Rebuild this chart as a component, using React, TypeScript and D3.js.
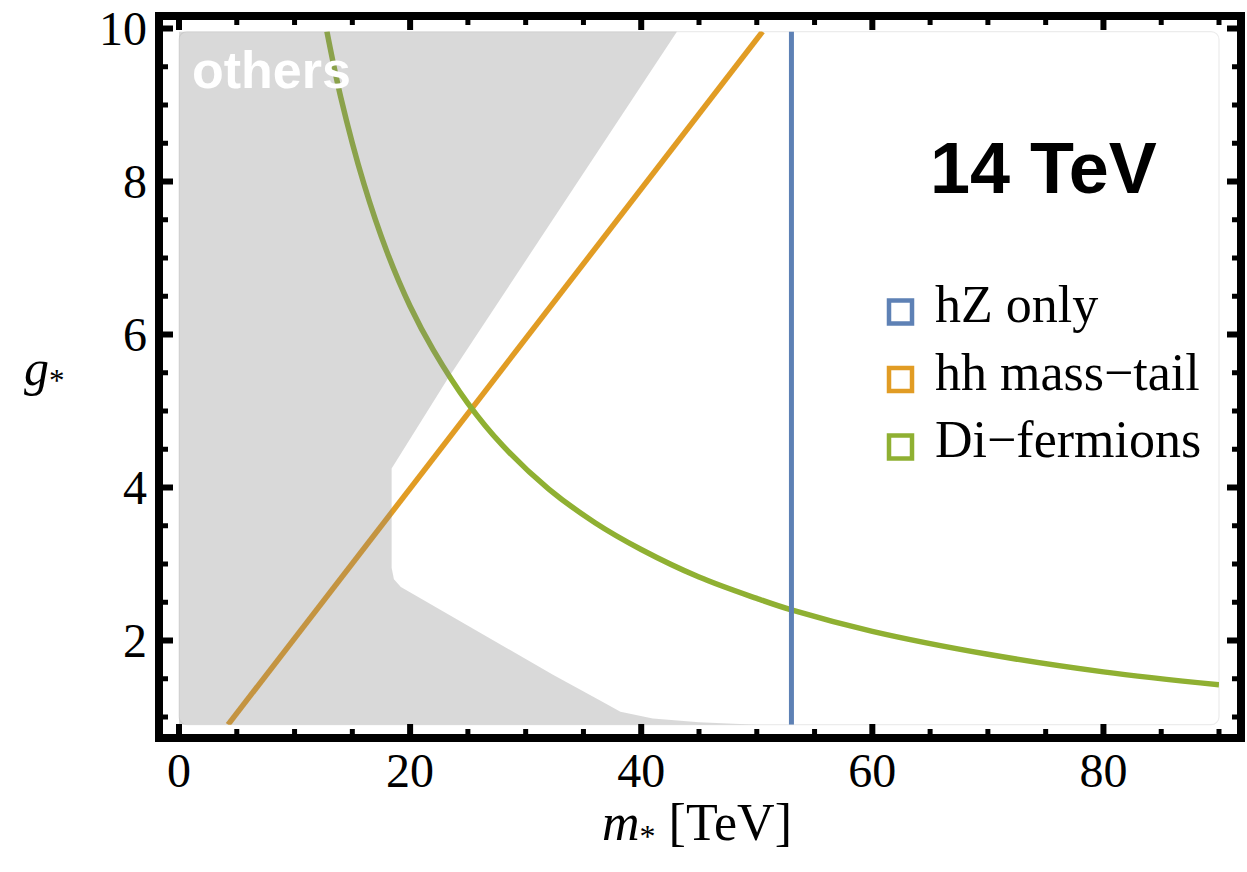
import React from "react";
import * as d3 from "d3";

// ---- data (m* in TeV, g* dimensionless) ----
const X_MAJOR = [0, 20, 40, 60, 80];
const Y_MAJOR = [2, 4, 6, 8, 10];
const PLOT_X = [0, 90];
const PLOT_Y = [0.9, 9.96];

// hZ only: vertical bound at fixed mass
const HZ_MASS = 53;
// hh mass-tail: straight bound
const HH_TAIL = [
  [4.24, 0.9],
  [50.5, 9.96],
];
// Di-fermions: falling bound
const DI_FERMIONS = [
  [12.8, 9.96],
  [14, 9.1],
  [16, 7.97],
  [18, 7.08],
  [20, 6.37],
  [22, 5.8],
  [25, 5.1],
  [28, 4.55],
  [32, 3.98],
  [36, 3.54],
  [40, 3.19],
  [45, 2.83],
  [50, 2.55],
  [53, 2.4],
  [60, 2.12],
  [70, 1.82],
  [80, 1.59],
  [90, 1.42],
];
// "others" excluded region outline
const OTHERS = [
  [0, 0.9],
  [0, 9.96],
  [43.1, 9.96],
  [23.2, 5.41],
  [18.4, 4.25],
  [18.4, 2.95],
  [18.6, 2.8],
  [19.2, 2.7],
  [32.4, 1.55],
  [36.4, 1.22],
  [38.2, 1.07],
  [41, 0.98],
  [45, 0.93],
  [50, 0.9],
];

const LEGEND = [
  { label: "hZ only", color: "#5E81B5" },
  { label: "hh mass\u2212tail", color: "#E19C24" },
  { label: "Di\u2212fermions", color: "#8FB032" },
];

const W = 1247;
const H = 872;

export default function App() {
  const x = d3.scaleLinear().domain([0, 90]).range([179, 1219]);
  const y = d3.scaleLinear().domain([1, 10]).range([717, 28.5]);

  const frame = { x0: 159, y0: 16, x1: 1241, y1: 738, sw: 8 };
  const majorLen = 14;
  const minorLen = 9;

  const xMinor = d3.range(0, 90.001, 5);
  const yMinor = d3.range(1, 10.001, 0.5);

  const line = d3
    .line<number[]>()
    .x((d) => x(d[0]))
    .y((d) => y(d[1]));
  const smooth = d3
    .line<number[]>()
    .x((d) => x(d[0]))
    .y((d) => y(d[1]))
    .curve(d3.curveCatmullRom.alpha(0.5));
  const area = d3
    .line<number[]>()
    .x((d) => x(d[0]))
    .y((d) => y(d[1]))
    .curve(d3.curveLinearClosed);

  const px0 = x(PLOT_X[0]);
  const px1 = x(PLOT_X[1]);
  const py0 = y(PLOT_Y[1]);
  const py1 = y(PLOT_Y[0]);

  const serif = "'Liberation Serif', 'Times New Roman', serif";
  const sans = "'Liberation Sans', Arial, Helvetica, sans-serif";

  const isMajorX = (v: number) => X_MAJOR.includes(v);
  const isMajorY = (v: number) => Y_MAJOR.includes(v);

  return (
    <svg
      width={W}
      height={H}
      style={{ position: "absolute", left: 0, top: 0, background: "#fff" }}
    >
      <defs>
        <clipPath id="plotClip">
          <rect x={px0} y={py0} width={px1 - px0} height={py1 - py0} />
        </clipPath>
      </defs>

      {/* faint plot area outline */}
      <rect
        x={px0}
        y={py0}
        width={px1 - px0}
        height={py1 - py0}
        rx={8}
        fill="#fff"
        stroke="#ececec"
        strokeWidth={1.2}
      />

      <g clipPath="url(#plotClip)">
        <path d={line(HH_TAIL) || ""} fill="none" stroke="#E19C24" strokeWidth={5.5} />
        <path d={smooth(DI_FERMIONS) || ""} fill="none" stroke="#8FB032" strokeWidth={5.5} />
        <line
          x1={x(HZ_MASS)}
          x2={x(HZ_MASS)}
          y1={py0}
          y2={py1}
          stroke="#5E81B5"
          strokeWidth={5}
        />
        <path d={area(OTHERS) || ""} fill="#858585" fillOpacity={0.31} stroke="none" />
      </g>

      <text x={192} y={88} fontFamily={sans} fontWeight="bold" fontSize={52} fill="#fff">
        others
      </text>

      <text x={930} y={193} fontFamily={sans} fontWeight="bold" fontSize={72} fill="#000">
        14 TeV
      </text>

      {LEGEND.map((d, i) => {
        const base = 322 + i * 67.5;
        return (
          <g key={d.label}>
            <rect
              x={889}
              y={base - 21.5}
              width={23}
              height={23}
              fill="#fff"
              stroke={d.color}
              strokeWidth={4.5}
            />
            <text x={935} y={base} fontFamily={serif} fontSize={52} fill="#000">
              {d.label}
            </text>
          </g>
        );
      })}

      {/* frame */}
      <rect
        x={frame.x0}
        y={frame.y0}
        width={frame.x1 - frame.x0}
        height={frame.y1 - frame.y0}
        fill="none"
        stroke="#000"
        strokeWidth={frame.sw}
      />

      {/* ticks */}
      {xMinor.map((v) => {
        const L = isMajorX(v) ? majorLen : minorLen;
        const sw = isMajorX(v) ? 6 : 5;
        return (
          <g key={"xt" + v}>
            <line x1={x(v)} x2={x(v)} y1={frame.y1} y2={frame.y1 - L} stroke="#000" strokeWidth={sw} />
            <line x1={x(v)} x2={x(v)} y1={frame.y0} y2={frame.y0 + L} stroke="#000" strokeWidth={sw} />
          </g>
        );
      })}
      {yMinor.map((v) => {
        const L = isMajorY(v) ? majorLen : minorLen;
        const sw = isMajorY(v) ? 6 : 5;
        return (
          <g key={"yt" + v}>
            <line x1={frame.x0} x2={frame.x0 + L} y1={y(v)} y2={y(v)} stroke="#000" strokeWidth={sw} />
            <line x1={frame.x1} x2={frame.x1 - L} y1={y(v)} y2={y(v)} stroke="#000" strokeWidth={sw} />
          </g>
        );
      })}

      {/* tick labels */}
      {X_MAJOR.map((v) => (
        <text
          key={"xl" + v}
          x={x(v)}
          y={787}
          textAnchor="middle"
          fontFamily={serif}
          fontSize={48}
          fill="#000"
        >
          {v}
        </text>
      ))}
      {Y_MAJOR.map((v) => (
        <text
          key={"yl" + v}
          x={147}
          y={y(v) + 16}
          textAnchor="end"
          fontFamily={serif}
          fontSize={48}
          fill="#000"
        >
          {v}
        </text>
      ))}

      {/* axis titles */}
      <text x={697} y={840} textAnchor="middle" fontFamily={serif} fontSize={52} fill="#000">
        <tspan fontStyle="italic">m</tspan>
        <tspan fontSize={32} dy={7}>*</tspan>
        <tspan dy={-7}> [TeV]</tspan>
      </text>
      <text x={24} y={385} fontFamily={serif} fontSize={50} fill="#000">
        <tspan fontStyle="italic">g</tspan>
        <tspan fontSize={31} dy={6}>*</tspan>
      </text>
    </svg>
  );
}
